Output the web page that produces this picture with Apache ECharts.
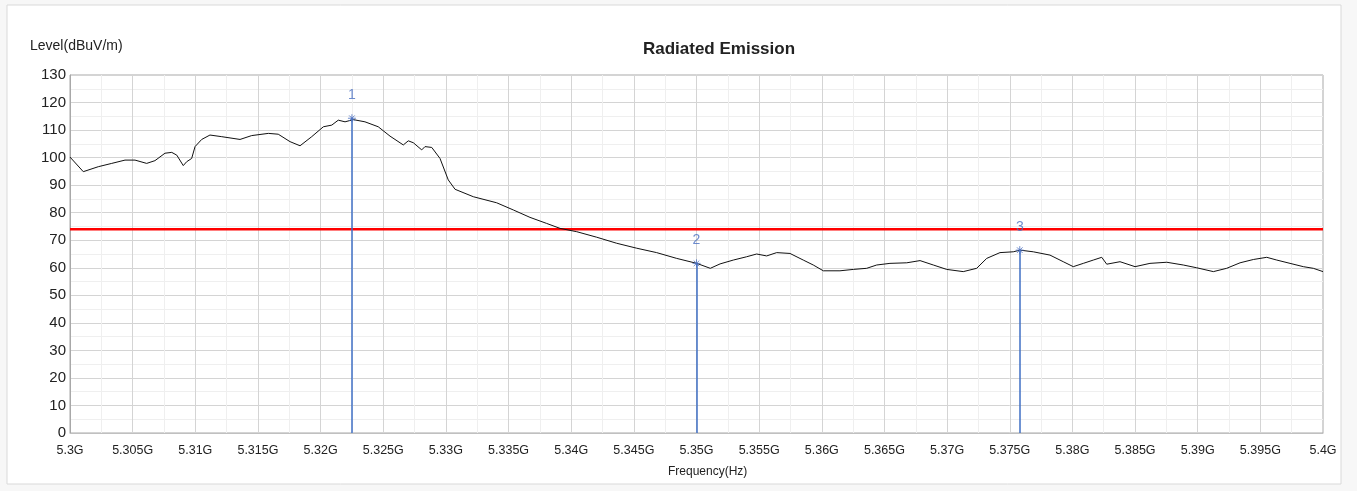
<!DOCTYPE html>
<html>
<head>
<meta charset="utf-8">
<script src="https://cdn.jsdelivr.net/npm/echarts@6/dist/echarts.min.js"></script>
<style>
html,body{margin:0;padding:0;background:#f7f7f7;}
#chart{width:1357px;height:491px;}
</style>
</head>
<body>
<div id="chart"></div>
<script>
// Frequency in MHz
var freqMHz = [5300.0,5301.06,5302.26,5303.33,5304.39,5305.19,5306.12,5306.78,5307.58,5308.12,5308.52,5309.04,5309.31,5309.71,5309.98,5310.51,5311.17,5312.11,5313.57,5314.5,5315.83,5316.62,5317.56,5318.36,5319.29,5320.22,5320.89,5321.41,5321.95,5322.61,5323.54,5324.6,5325.54,5326.6,5327.0,5327.4,5328.07,5328.33,5328.87,5329.53,5330.19,5330.73,5332.19,5334.05,5335.38,5336.71,5338.04,5339.11,5340.44,5342.03,5343.63,5345.23,5346.82,5348.42,5350.02,5351.1,5351.88,5352.94,5354.0,5354.8,5355.6,5356.4,5357.46,5358.52,5359.32,5360.12,5361.45,5362.51,5363.58,5364.38,5365.44,5366.78,5367.84,5368.9,5369.97,5371.29,5372.36,5373.16,5374.22,5375.28,5375.82,5376.88,5378.21,5379.27,5380.07,5380.87,5381.67,5382.34,5382.74,5383.8,5385.0,5386.19,5387.53,5388.85,5389.92,5391.25,5392.31,5393.38,5394.44,5395.51,5396.31,5397.37,5398.43,5399.23,5400.0];
var level = [100.2,94.9,96.7,97.9,99.1,99.1,97.9,98.9,101.6,101.9,100.9,97.1,98.5,99.7,104.0,106.6,108.2,107.6,106.6,108.0,108.8,108.5,105.8,104.3,107.6,111.2,111.8,113.6,113.0,113.8,113.0,111.2,107.8,104.6,106.1,105.4,102.8,104.0,103.7,99.7,91.9,88.5,85.8,83.6,81.0,78.3,76.1,74.3,73.1,71.1,68.9,67.1,65.5,63.4,61.6,59.8,61.4,62.8,64.0,65.0,64.3,65.5,65.2,62.8,61.0,58.9,58.9,59.4,59.8,61.0,61.6,61.8,62.6,61.0,59.4,58.6,59.8,63.4,65.5,65.8,66.4,65.8,64.6,62.2,60.4,61.6,62.8,63.8,61.3,62.2,60.4,61.6,62.0,61.0,60.0,58.6,59.8,61.8,63.0,63.8,62.8,61.6,60.4,59.8,58.6];
var limitFreq = [5300, 5400];
var limitLevel = [74, 74];
var markerNames = ['1', '2', '3'];
var markerFreq = [5322.5, 5350.0, 5375.8];
var markerLevel = [114.3, 61.6, 66.4];
var yTicks = [0, 130, 10];

var curve = freqMHz.map(function (f, i) { return [f, level[i]]; });
var limit = limitFreq.map(function (f, i) { return [f, limitLevel[i]]; });
var markerPts = markerFreq.map(function (f, i) { return { value: [f, markerLevel[i]], name: markerNames[i] }; });
var markerLines = markerFreq.map(function (f, i) { return [{ coord: [f, 0] }, { coord: [f, markerLevel[i]] }]; });

var FONT = '"Liberation Sans", Arial, sans-serif';
var chart = echarts.init(document.getElementById('chart'));
chart.setOption({
  backgroundColor: '#f7f7f7',
  animation: false,
  title: {
    text: 'Radiated Emission',
    left: 714, top: 36, textAlign: 'center',
    textStyle: { fontFamily: FONT, fontSize: 17, fontWeight: 'bold', color: '#222' }
  },
  graphic: [
    { type: 'rect', z: -10, shape: { x: 7, y: 5, width: 1334, height: 479 }, style: { fill: '#ffffff', stroke: '#d9d9d9', lineWidth: 1 } },
    { type: 'text', left: 30, top: 39, style: { text: 'Level(dBuV/m)', fontFamily: FONT, fontSize: 14, fill: '#222' } },
    { type: 'text', left: 668, top: 466, style: { text: 'Frequency(Hz)', fontFamily: FONT, fontSize: 12, fill: '#222' } }
  ],
  grid: { left: 70, right: 34, top: 75, bottom: 58, show: true, borderColor: '#a8a8a8', borderWidth: 1, backgroundColor: 'transparent' },
  xAxis: {
    type: 'value', min: 5300, max: 5400, interval: 5,
    axisLine: { show: true, lineStyle: { color: '#c0c0c0' } },
    axisTick: { show: false },
    axisLabel: { color: '#222', fontFamily: FONT, fontSize: 12.5, margin: 11,
      formatter: function (v) { return (+(v / 1000).toFixed(4)) + 'G'; } },
    splitLine: { show: true, lineStyle: { color: '#d4d4d4', width: 1 } },
    minorTick: { show: false, splitNumber: 2 },
    minorSplitLine: { show: true, lineStyle: { color: '#efefef', width: 1 } }
  },
  yAxis: {
    type: 'value', min: yTicks[0], max: yTicks[1], interval: yTicks[2],
    axisLine: { show: true, lineStyle: { color: '#a8a8a8' } },
    axisTick: { show: false },
    axisLabel: { color: '#222', fontFamily: FONT, fontSize: 15, margin: 4 },
    splitLine: { show: true, lineStyle: { color: '#d4d4d4', width: 1 } },
    minorTick: { show: false, splitNumber: 2 },
    minorSplitLine: { show: true, lineStyle: { color: '#efefef', width: 1 } }
  },
  series: [
    {
      type: 'line', data: limit, symbol: 'none', silent: true,
      lineStyle: { color: '#ff0000', width: 2.5 }, z: 3
    },
    {
      type: 'line', data: curve, symbol: 'none', silent: true,
      lineStyle: { color: '#111111', width: 1 }, z: 4
    },
    {
      type: 'scatter', data: markerPts, z: 5,
      symbol: 'path://M5,0L5,10M0,5L10,5M1.5,1.5L8.5,8.5M8.5,1.5L1.5,8.5',
      symbolSize: 8,
      itemStyle: { color: 'transparent', borderColor: '#4a6fc0', borderWidth: 1 },
      label: { show: true, position: 'top', distance: 12, formatter: function (p) { return p.name; },
        color: '#4a6fc0', fontFamily: FONT, fontSize: 14 },
      markLine: {
        silent: true, symbol: 'none', label: { show: false },
        lineStyle: { color: '#3f6fc4', width: 1.5, type: 'solid' },
        data: markerLines
      }
    }
  ]
});
</script>
</body>
</html>
